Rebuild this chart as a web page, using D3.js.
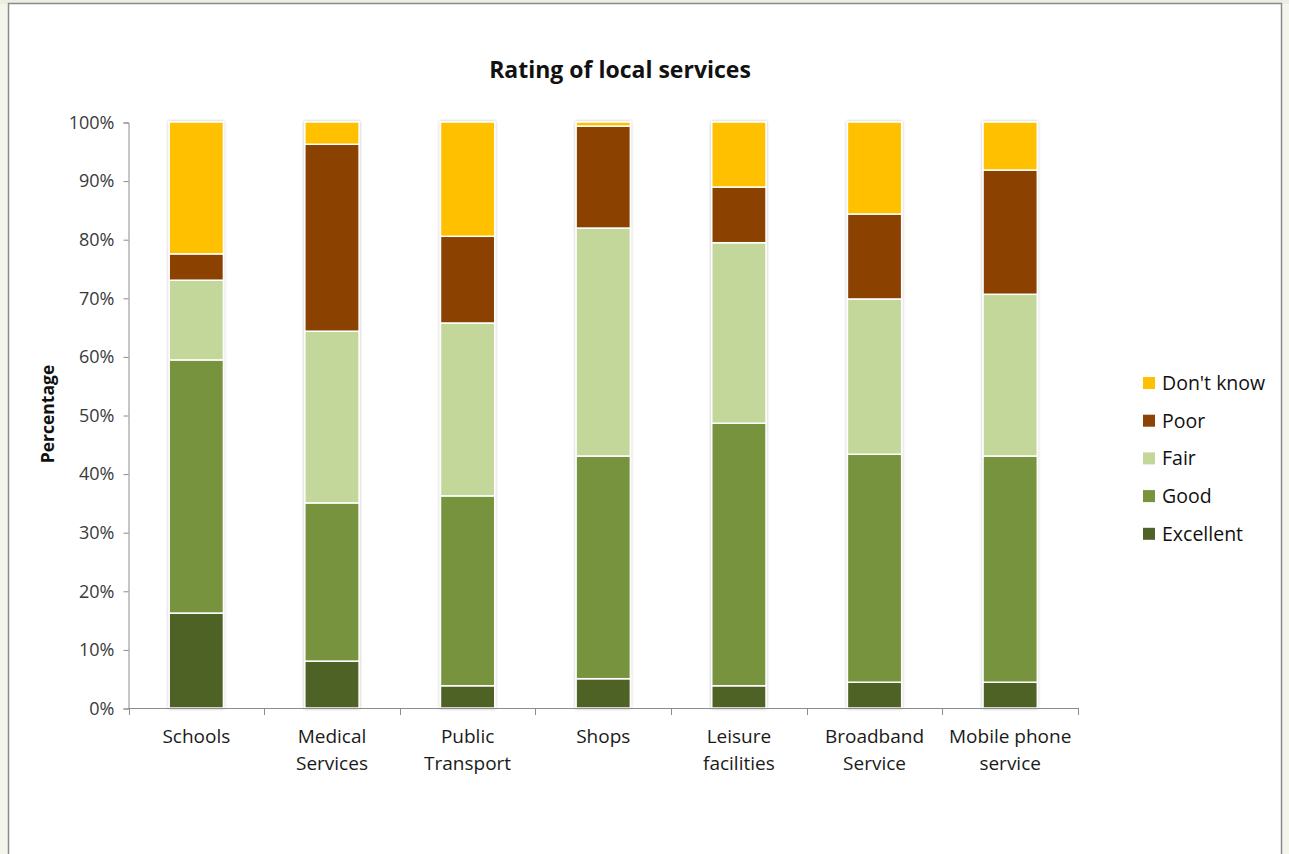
<!DOCTYPE html>
<html>
<head>
<meta charset="utf-8">
<script src="https://cdn.jsdelivr.net/npm/d3@7"></script>
<style>
  html, body { margin: 0; padding: 0; background: #f4f6ec; }
  svg { display: block; }
  text { font-family: "Open Sans", "Noto Sans", sans-serif; }
</style>
</head>
<body>
<svg id="chart" width="1289" height="854"></svg>
<script>
const categories = [
  ["Schools"], ["Medical", "Services"], ["Public", "Transport"], ["Shops"],
  ["Leisure", "facilities"], ["Broadband", "Service"], ["Mobile phone", "service"]
];
const seriesNames = ["Excellent", "Good", "Fair", "Poor", "Don't know"];
const excellent = [16.2, 8.0, 3.8, 5.0, 3.8, 4.4, 4.4];
const good      = [43.2, 27.0, 32.4, 38.0, 44.8, 38.9, 38.6];
const fair      = [13.6, 29.3, 29.5, 38.9, 30.8, 26.5, 27.6];
const poor      = [4.5, 31.9, 14.8, 17.4, 9.5, 14.5, 21.2];
const dontKnow  = [22.5, 3.8, 19.5, 0.7, 11.1, 15.7, 8.2];
const yTicks = [0, 10, 20, 30, 40, 50, 60, 70, 80, 90, 100];
const colors = ["#4f6228", "#77933c", "#c4d79b", "#8b4306", "#ffc000"];

(function () {
const seriesValues = [excellent, good, fair, poor, dontKnow];
const catKeys = categories.map(c => c.join(" "));
const rows = catKeys.map((k, i) => {
  const r = { cat: k };
  seriesNames.forEach((s, j) => r[s] = seriesValues[j][i]);
  return r;
});

const svg = d3.select("#chart");

// frame
svg.append("rect").attr("x", 0).attr("y", 0).attr("width", 1289).attr("height", 4).attr("fill", "#eceee4");
svg.append("rect").attr("x", 8.5).attr("y", 3.5).attr("width", 1273).attr("height", 860)
  .attr("fill", "#ffffff").attr("stroke", "#8a8a8a").attr("stroke-width", 1.5);

const defs = svg.append("defs");
const f = defs.append("filter").attr("id", "shadow").attr("x", "-20%").attr("y", "-5%").attr("width", "140%").attr("height", "110%");
f.append("feDropShadow").attr("dx", 0).attr("dy", 0).attr("stdDeviation", 1.6)
  .attr("flood-color", "#000").attr("flood-opacity", 0.28);
const g2 = defs.append("filter").attr("id", "lshadow").attr("x", "-1%").attr("y", "-200%").attr("width", "102%").attr("height", "500%");
g2.append("feDropShadow").attr("dx", 0).attr("dy", 1).attr("stdDeviation", 0.8)
  .attr("flood-color", "#000").attr("flood-opacity", 0.2);

const pLeft = 128.5, pRight = 1078, pTop = 122, pBottom = 708;

const x = d3.scaleBand().domain(catKeys).range([pLeft, pRight]).paddingInner(0).paddingOuter(0);
const barW = x.bandwidth() * 0.4;
const y = d3.scaleLinear().domain([0, 100]).range([pBottom, pTop]);

// gridlines
svg.append("g").selectAll("line").data(yTicks.slice(1)).join("line")
  .attr("x1", pLeft).attr("x2", pRight)
  .attr("y1", d => y(d) + 0.5).attr("y2", d => y(d) + 0.5)
  .attr("stroke", "#9a9a9a").attr("stroke-width", 1).attr("filter", "url(#lshadow)");

// y axis
const yAxis = d3.axisLeft(y).tickValues(yTicks).tickFormat(d => d + "%").tickSize(5).tickPadding(9);
const ya = svg.append("g").attr("transform", `translate(${Math.floor(pLeft) + 0.5},0.5)`).call(yAxis);
ya.select(".domain").attr("stroke", "#8c8c8c");
ya.selectAll(".tick line").attr("stroke", "#8c8c8c");
ya.selectAll(".tick text").attr("fill", "#3a3a3a").style("font-size", "18px").style("font-family", "'Open Sans', sans-serif");

// stacked bars
const stacked = d3.stack().keys(seriesNames)(rows);
const gBars = svg.append("g").attr("filter", "url(#shadow)");
gBars.selectAll("g").data(stacked).join("g")
  .attr("fill", (d, i) => colors[i])
  .selectAll("rect").data(d => d).join("rect")
  .attr("x", d => x(d.data.cat) + (x.bandwidth() - barW) / 2)
  .attr("width", barW)
  .attr("y", d => y(d[1]))
  .attr("height", d => Math.max(0, y(d[0]) - y(d[1])))
  .attr("stroke", "#ffffff").attr("stroke-width", 1.5);

// x axis
svg.append("line").attr("x1", Math.floor(pLeft)).attr("x2", pRight).attr("y1", pBottom + 0.5).attr("y2", pBottom + 0.5)
  .attr("stroke", "#8c8c8c");
const bounds = catKeys.map(k => x(k)).concat([pRight]);
svg.append("g").selectAll("line").data(bounds).join("line")
  .attr("x1", d => Math.round(d) + 0.5).attr("x2", d => Math.round(d) + 0.5)
  .attr("y1", pBottom).attr("y2", pBottom + 7).attr("stroke", "#8c8c8c");

const labels = svg.append("g").selectAll("text").data(categories).join("text")
  .attr("text-anchor", "middle")
  .attr("fill", "#1a1a1a")
  .style("font-size", "19px");
labels.each(function(lines, i) {
  const t = d3.select(this);
  lines.forEach((ln, j) => {
    t.append("tspan").attr("x", x(catKeys[i]) + x.bandwidth() / 2).attr("y", 743 + j * 27).text(ln);
  });
});

// title
svg.append("text").attr("x", 620).attr("y", 78).attr("text-anchor", "middle")
  .style("font-size", "23px").style("font-weight", "bold").attr("fill", "#111")
  .text("Rating of local services");

// y axis title
svg.append("text").attr("transform", "translate(54,414) rotate(-90)").attr("text-anchor", "middle")
  .style("font-size", "17.5px").style("font-weight", "bold").attr("fill", "#111")
  .text("Percentage");

// legend
const legendOrder = seriesNames.map((s, i) => ({ s, c: colors[i] })).reverse();
const lg = svg.append("g").selectAll("g").data(legendOrder).join("g")
  .attr("transform", (d, i) => `translate(1143,${383 + i * 37.7})`);
lg.append("rect").attr("x", 0).attr("y", -6).attr("width", 12).attr("height", 12).attr("fill", d => d.c);
lg.append("text").attr("x", 19).attr("y", 7).style("font-size", "19.5px").attr("fill", "#111").text(d => d.s);
})();
</script>
</body>
</html>
